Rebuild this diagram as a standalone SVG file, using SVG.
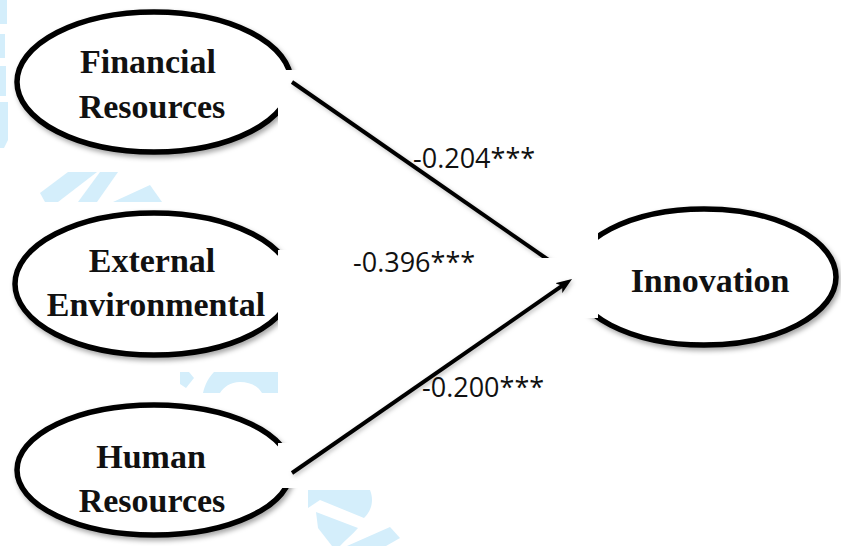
<svg xmlns="http://www.w3.org/2000/svg" width="841" height="546" viewBox="0 0 841 546">
  <defs>
    <style>
      .node { fill: #ffffff; stroke: #000000; stroke-width: 5.5; filter: url(#shadow); }
      .label { font-family: "Liberation Serif", "Times New Roman", serif; font-weight: bold; font-size: 34px; fill: #111111; text-anchor: middle; }
      .coef { font-family: "Open Sans", "Liberation Sans", sans-serif; font-size: 27px; fill: #111111; }
      .edge { stroke: #000000; stroke-width: 4; fill: none; filter: url(#lineshadow); }
      .wm { fill: #d4eefb; }
      .cover { fill: #ffffff; }
    </style>
    <filter id="shadow" x="-10%" y="-10%" width="125%" height="130%">
      <feDropShadow dx="2" dy="3" stdDeviation="2.5" flood-color="#000000" flood-opacity="0.35"/>
    </filter>
    <filter id="lineshadow" x="-10%" y="-10%" width="125%" height="130%">
      <feDropShadow dx="1.5" dy="2" stdDeviation="2" flood-color="#000000" flood-opacity="0.25"/>
    </filter>
    <marker id="arrow" viewBox="0 0 16 12" markerWidth="16" markerHeight="12" refX="6" refY="6" orient="auto" markerUnits="userSpaceOnUse">
      <path d="M0,0 L16,6 L0,12 L4,6 Z" fill="#000000"/>
    </marker>
  </defs>

  <rect width="841" height="546" fill="#ffffff"/>

  <!-- faint background watermark fragments -->
  <g id="watermark">
    <rect class="wm" x="0" y="0" width="7" height="24"/>
    <rect class="wm" x="0" y="34" width="5" height="24"/>
    <rect class="wm" x="0" y="66" width="6" height="30"/>
    <polygon class="wm" points="0,102 8,102 8,140 4,148 0,148"/>
    <polygon class="wm" points="40,193 68,172 97,172 58,202 45,202"/>
    <polygon class="wm" points="78,202 100,172 118,172 97,202"/>
    <polygon class="wm" points="113,202 150,185 162,202"/>
    <polygon class="wm" points="180,372 189,372 194,378 186,388 180,384"/>
    <path class="wm" d="M203,393 C205,384 209,377 214,372 L278,372 L278,393 L262,393 C258,386 250,382 240,382 C230,382 224,387 220,393 Z"/>
    <path class="wm" d="M308,490 L370,490 C374,500 372,510 364,518 L320,500 L308,508 Z"/>
    <path class="wm" d="M316,512 L358,528 C352,535 345,540 340,546 L332,546 L318,528 Z"/>
    <polygon class="wm" points="347,546 390,527 400,538 386,546"/>
  </g>

  <g id="node-financial">
    <ellipse class="node" cx="154" cy="82" rx="137" ry="70"/>
  </g>
  <g id="node-external">
    <ellipse class="node" cx="154" cy="284" rx="139" ry="71"/>
  </g>
  <g id="node-human">
    <ellipse class="node" cx="154" cy="470" rx="137" ry="65"/>
  </g>
  <g id="node-innovation">
    <ellipse class="node" cx="704" cy="277" rx="132" ry="68"/>
  </g>

  <!-- white text-box backgrounds lying over the shape edges -->
  <g id="boxes">
    <rect class="cover" x="278" y="70" width="32" height="95"/>
    <rect class="cover" x="278" y="250" width="32" height="80"/>
    <rect class="cover" x="278" y="443" width="32" height="45"/>
    <rect class="cover" x="552" y="230" width="46" height="30"/>
  </g>

  <g id="connectors">
    <line class="edge" x1="292" y1="82" x2="563" y2="270" marker-end="url(#arrow)"/>
    <rect class="cover" x="520" y="258" width="78" height="60"/>
    <line class="edge" x1="292" y1="473" x2="563.8" y2="284.7" marker-end="url(#arrow)"/>
  </g>

  <g id="coefficients">
    <text class="coef" x="413" y="168">-0.204***</text>
    <text class="coef" x="353" y="272">-0.396***</text>
    <text class="coef" x="422" y="397">-0.200***</text>
  </g>

  <g id="labels">
    <text class="label" x="148" y="73">Financial</text>
    <text class="label" x="152" y="118">Resources</text>
    <text class="label" x="152" y="272">External</text>
    <text class="label" x="156" y="316">Environmental</text>
    <text class="label" x="151" y="468">Human</text>
    <text class="label" x="152" y="512">Resources</text>
    <text class="label" x="710" y="292">Innovation</text>
  </g>
</svg>
